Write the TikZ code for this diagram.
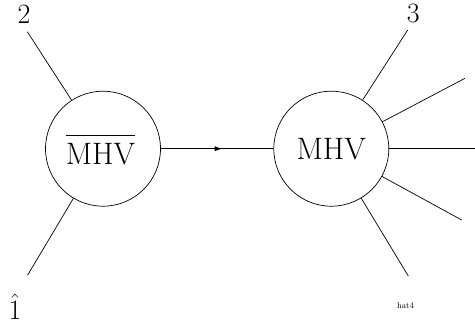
\RequirePackage{fix-cm}
\documentclass[tikz,border=0pt]{standalone}
\usetikzlibrary{arrows.meta,decorations.markings}
\newcommand{\barredtext}[1]{\vbox{\hrule height 1.3pt\kern 7.5pt\hbox{#1}}}
\begin{document}
\begin{tikzpicture}[x=1pt,y=-1pt,
  blob/.style={draw,circle,line width=0.7pt,minimum size=115pt,inner sep=0pt,font=\fontsize{31}{34}\selectfont},
  leg/.style={line width=0.7pt},
  lab/.style={inner sep=0pt,font=\fontsize{28}{32}\selectfont},
  midarrow/.style={postaction={decorate},decoration={markings,mark=at position 0.545 with {\arrow{Latex[length=7.5pt,width=5pt]}}}}]
\useasboundingbox (0,0) rectangle (475,333);
\node[blob] (L) at (103,148.7) {};
\node[inner sep=0pt,font=\fontsize{31}{34}\selectfont] (Lt) at (100.5,150) {\barredtext{MHV}};
\node[blob] (R) at (331.3,148.7) {MHV};
\coordinate (e2) at (27.3,31.7);
\coordinate (e1) at (27.7,275);
\coordinate (r3) at (407.7,30);
\coordinate (r2) at (465,78.3);
\coordinate (r0) at (475,148.7);
\coordinate (r4) at (461.7,220);
\coordinate (r5) at (408.3,276);
\draw[leg] (L) -- (e2);
\draw[leg] (L) -- (e1);
\draw[leg] (R) -- (r3);
\draw[leg] (R) -- (r2);
\draw[leg] (R) -- (r0);
\draw[leg] (R) -- (r4);
\draw[leg] (R) -- (r5);
\draw[leg,midarrow] (L) -- (R);
\node[lab] (l2) at (24,14) {$2$};
\node[lab] (l1) at (15,307) {$\hat 1$};
\node[lab] (l3) at (413.3,13.3) {$3$};
\node[inner sep=0pt,font=\fontsize{8.5}{9}\selectfont] (l4) at (405.5,305.7) {hat4};
\end{tikzpicture}
\end{document}
